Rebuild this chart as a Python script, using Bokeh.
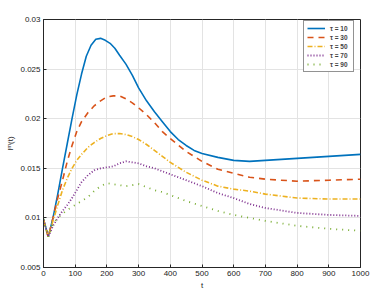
from bokeh.plotting import figure
from bokeh.models import LinearAxis, FixedTicker, Legend, LegendItem, Range1d
from bokeh.embed import file_html
from bokeh.resources import INLINE

t10 = [0, 15, 30, 45, 60, 75, 90, 105, 120, 135, 150, 165, 180, 195, 210, 225,
       240, 260, 280, 300, 325, 350, 375, 400, 425, 450, 475, 500, 550, 600,
       650, 700, 800, 900, 1000]
tau10 = [0.0099, 0.0081, 0.0100, 0.0124, 0.0150, 0.0175, 0.0200, 0.0224, 0.0245,
         0.0263, 0.0274, 0.0280, 0.0281, 0.0279, 0.0276, 0.0271, 0.0264, 0.0255,
         0.0244, 0.0231, 0.0218, 0.0207, 0.0197, 0.0187, 0.0179, 0.0173, 0.0168,
         0.0165, 0.0161, 0.0158, 0.0157, 0.0158, 0.0160, 0.0162, 0.0164]
t = [0, 15, 30, 45, 60, 75, 90, 105, 120, 140, 160, 180, 200, 220, 240, 260, 280,
     300, 325, 350, 375, 400, 450, 500, 550, 600, 650, 700, 800, 900, 1000]
tau30 = [0.0098, 0.0081, 0.0100, 0.0120, 0.0138, 0.0157, 0.0173, 0.0187, 0.0197,
         0.0206, 0.0213, 0.0218, 0.0222, 0.0223, 0.0223, 0.0220, 0.0216, 0.0211,
         0.0204, 0.0196, 0.0187, 0.0180, 0.0167, 0.0157, 0.0149, 0.0145, 0.0141,
         0.0139, 0.0137, 0.0138, 0.0139]
tau50 = [0.0098, 0.0081, 0.0097, 0.0113, 0.0128, 0.0140, 0.0150, 0.0158, 0.0164,
         0.0171, 0.0176, 0.0180, 0.0183, 0.0185, 0.0185, 0.0184, 0.0182, 0.0179,
         0.0174, 0.0168, 0.0162, 0.0156, 0.0146, 0.0138, 0.0132, 0.0129, 0.0127,
         0.0124, 0.0120, 0.0119, 0.0119]
tau70 = [0.0098, 0.0081, 0.0092, 0.0100, 0.0107, 0.0113, 0.0120, 0.0128, 0.0136,
         0.0143, 0.0148, 0.0150, 0.0151, 0.0152, 0.0155, 0.0157, 0.0156, 0.0155,
         0.0152, 0.0150, 0.0147, 0.0144, 0.0138, 0.0132, 0.0125, 0.0120, 0.0114,
         0.0110, 0.0105, 0.0103, 0.0102]
tau90 = [0.0099, 0.0081, 0.0094, 0.0100, 0.0104, 0.0108, 0.0111, 0.0114, 0.0117,
         0.0121, 0.0127, 0.0132, 0.0135, 0.0134, 0.0133, 0.0132, 0.0133, 0.0134,
         0.0131, 0.0128, 0.0126, 0.0123, 0.0117, 0.0112, 0.0107, 0.0103, 0.0100,
         0.0097, 0.0092, 0.0089, 0.0087]
labels = ["τ = 10", "τ = 30", "τ = 50", "τ = 70", "τ = 90"]
x_ticks = [0, 100, 200, 300, 400, 500, 600, 700, 800, 900, 1000]
y_ticks = [0.005, 0.01, 0.015, 0.02, 0.025, 0.03]
y_tick_labels = ["0.005", "0.01", "0.015", "0.02", "0.025", "0.03"]

FONT = "Liberation Sans"
AX = "#262626"

p = figure(frame_width=317, frame_height=248, width=380, height=288,
           output_backend="svg", toolbar_location=None,
           x_range=Range1d(0, 1000), y_range=Range1d(0.005, 0.03),
           min_border_left=43, min_border_top=19, min_border_right=20,
           min_border_bottom=21, x_axis_location=None, y_axis_location=None)
p.background_fill_color = "white"
p.outline_line_color = AX
p.outline_line_width = 1

xa = LinearAxis(ticker=FixedTicker(ticks=x_ticks), axis_label="t")
ya = LinearAxis(ticker=FixedTicker(ticks=y_ticks), axis_label="Iᵐ(t)",
                major_label_overrides={v: s for v, s in zip(y_ticks, y_tick_labels)})
for ax in (xa, ya):
    ax.axis_line_color = AX
    ax.major_tick_line_color = AX
    ax.major_tick_in = 3
    ax.major_tick_out = 0
    ax.minor_tick_line_color = None
    ax.major_label_text_font = FONT
    ax.major_label_text_font_size = "8px"
    ax.major_label_text_color = "#222222"
    ax.axis_label_text_font = FONT
    ax.axis_label_text_font_size = "8px"
    ax.axis_label_text_font_style = "normal"
    ax.axis_label_text_color = "#222222"
    ax.major_label_standoff = 3
    ax.axis_label_standoff = 2
p.add_layout(xa, "below")
p.add_layout(ya, "left")

p.xgrid.ticker = FixedTicker(ticks=x_ticks)
p.ygrid.ticker = FixedTicker(ticks=y_ticks)
for g in (p.xgrid, p.ygrid):
    g.grid_line_color = "#e3e3e3"
    g.grid_line_width = 1

r1 = p.line(t10, tau10, line_color="#0072BD", line_width=1.6)
r2 = p.line(t, tau30, line_color="#D95319", line_width=1.6, line_dash="6 5")
r3 = p.line(t, tau50, line_color="#EDB120", line_width=1.6, line_dash="5 2 1 2")
r4 = p.line(t, tau70, line_color="#7E2F8E", line_width=1.8, line_dash="1 2")
r5 = p.line(t, tau90, line_color="#77AC30", line_width=1.8, line_dash="1 5")

legend = Legend(items=[LegendItem(label=l, renderers=[r]) for l, r in
                       zip(labels, [r1, r2, r3, r4, r5])],
                location=(260, 195))
legend.label_text_font = FONT
legend.label_text_font_size = "6.5px"
legend.label_text_font_style = "bold"
legend.label_height = 8
legend.glyph_height = 8
legend.glyph_width = 18
legend.spacing = 1
legend.padding = 3
legend.margin = 0
legend.label_standoff = 5
legend.border_line_color = AX
legend.border_line_width = 1
legend.background_fill_alpha = 1
p.add_layout(legend, "center")

open("out.html", "w").write(file_html(p, INLINE))
